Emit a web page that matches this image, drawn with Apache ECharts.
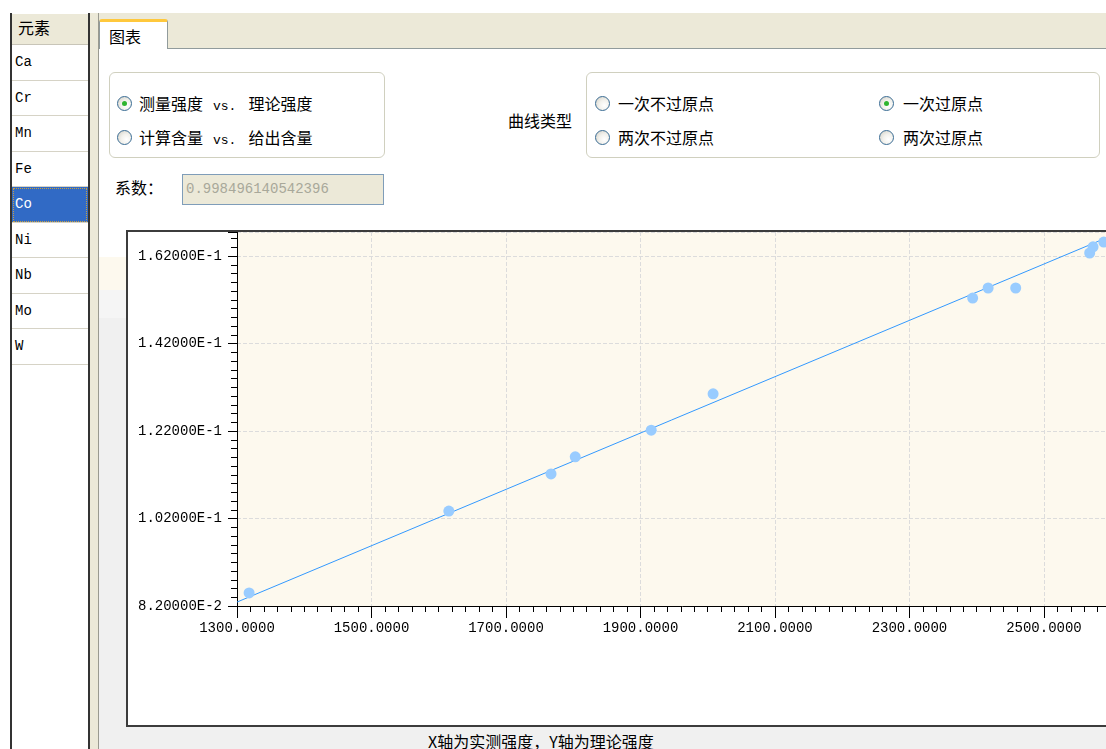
<!DOCTYPE html>
<html>
<head>
<meta charset="utf-8">
<script src="https://cdn.jsdelivr.net/npm/echarts@6/dist/echarts.min.js"></script>
<style>
  html, body { margin: 0; padding: 0; }
  body { width: 1106px; height: 749px; overflow: hidden; position: relative; background: #fff;
         font-family: 'Noto Sans CJK SC', sans-serif; color: #000; }
  .abs { position: absolute; }
  .cjk { font-size: 16px; line-height: 20px; white-space: nowrap; }
  .mono { font-family: 'Liberation Mono', monospace; }
  .radio { position: absolute; width: 13px; height: 13px; border-radius: 50%; border: 1px solid #3a6c94;
           background: radial-gradient(circle at 65% 65%, #fff 0%, #f2f1ec 45%, #cfcdc3 100%); }
  .radio.on::after { content: ''; position: absolute; left: 4px; top: 4px; width: 5px; height: 5px;
           border-radius: 50%; background: #2fb52f; }
  .group { position: absolute; border: 1px solid #d0d0bf; border-radius: 6px; background: #fff; }
  .row { position: absolute; left: 0; width: 76px; border-bottom: 1px solid #d6d3c6;
         font-family: 'Liberation Mono', monospace; font-size: 14px; padding-left: 3px; box-sizing: border-box; }
</style>
</head>
<body>

<!-- left element list -->
<div class="abs" style="left:10px;top:13px;width:76px;height:736px;border-left:2px solid #333;border-right:2px solid #333;background:#fff;">
  <div class="abs cjk" style="left:0;top:1px;width:76px;height:30px;background:#ece9d8;border-bottom:1px solid #c8c5b8;">
    <span class="abs" style="left:6px;top:3px;">元素</span>
  </div>
  <div id="rows"></div>
</div>
<div class="abs" style="left:90px;top:13px;width:8px;height:736px;background:#ece9d8;"></div>
<div class="abs" style="left:98px;top:13px;width:1px;height:736px;background:#9a9a90;"></div>

<!-- tab strip -->
<div class="abs" style="left:99px;top:13px;width:1007px;height:35px;background:#ece9d8;border-bottom:1px solid #919b9c;"></div>
<div class="abs" style="left:99px;top:19px;width:69px;height:30px;background:#fff;border:1px solid #919b9c;border-top:3px solid #ffc83c;border-bottom:none;border-radius:3px 3px 0 0;box-sizing:border-box;">
  <span class="abs cjk" style="left:9px;top:4px;">图表</span>
</div>

<!-- option groups -->
<div class="group" style="left:109px;top:72px;width:274px;height:84px;"></div>
<div class="radio on" style="left:117px;top:96px;"></div>
<div class="abs cjk" style="left:139px;top:93px;">测量强度<span class="mono" style="font-size:13px;margin:0 12px 0 10px;">vs.</span>理论强度</div>
<div class="radio" style="left:117px;top:130px;"></div>
<div class="abs cjk" style="left:139px;top:127px;">计算含量<span class="mono" style="font-size:13px;margin:0 12px 0 10px;">vs.</span>给出含量</div>

<div class="abs cjk" style="left:508px;top:110px;">曲线类型</div>

<div class="group" style="left:586px;top:72px;width:512px;height:84px;"></div>
<div class="radio" style="left:595px;top:96px;"></div>
<div class="abs cjk" style="left:618px;top:93px;">一次不过原点</div>
<div class="radio" style="left:595px;top:130px;"></div>
<div class="abs cjk" style="left:618px;top:127px;">两次不过原点</div>
<div class="radio on" style="left:879px;top:96px;"></div>
<div class="abs cjk" style="left:903px;top:93px;">一次过原点</div>
<div class="radio" style="left:879px;top:130px;"></div>
<div class="abs cjk" style="left:903px;top:127px;">两次过原点</div>

<div class="abs cjk" style="left:115px;top:177px;">系数：</div>
<div class="abs mono" style="left:182px;top:174px;width:202px;height:31px;box-sizing:border-box;background:#ece9d8;border:1px solid #7f9db9;color:#a8a89a;font-size:14px;line-height:29px;padding-left:3px;">0.998496140542396</div>

<!-- background strip left of chart -->
<div class="abs" style="left:99px;top:257px;width:1007px;height:33px;background:#fdf9ee;"></div>
<div class="abs" style="left:99px;top:290px;width:1007px;height:28px;background:#f5f5f5;"></div>
<div class="abs" style="left:99px;top:318px;width:1007px;height:431px;background:#f0f0f0;"></div>

<!-- chart box -->
<div id="chart" class="abs" style="left:126px;top:230px;width:1000px;height:493px;border:2px solid #3c3c3c;background:#fff;"></div>

<div class="abs cjk" style="left:428px;top:731px;">X轴为实测强度，Y轴为理论强度</div>

<script>
const elements = ['Ca', 'Cr', 'Mn', 'Fe', 'Co', 'Ni', 'Nb', 'Mo', 'W'];
const selectedElement = 'Co';

// measured intensity (x) vs theoretical intensity (y)
const measured = [1318, 1615, 1767, 1803, 1916, 2008, 2394, 2417, 2458, 2568, 2573, 2589];
const theory = [0.0850, 0.1037, 0.1122, 0.1161, 0.1222, 0.1305, 0.1524, 0.1547, 0.1547, 0.1627, 0.1641, 0.1652];

// fitted line, read at both ends of the visible plot
const fitX = [1300, 2592];
const fitY = [0.0829, 0.1661];

// element list rows
const rowsEl = document.getElementById('rows');
elements.forEach((el, i) => {
  const d = document.createElement('div');
  d.className = 'row';
  d.style.top = (32 + i * 35.5) + 'px';
  d.style.height = '35.5px';
  d.style.lineHeight = '34px';
  if (el === selectedElement) {
    d.style.background = '#316ac5';
    d.style.color = '#fff';
    d.style.outline = '1px dotted #c8a040';
    d.style.outlineOffset = '-2px';
  }
  d.textContent = el;
  rowsEl.appendChild(d);
});

const chart = echarts.init(document.getElementById('chart'));

const axisCommon = {
  type: 'value',
  axisLine: { show: true, lineStyle: { color: '#000', width: 1 } },
  splitLine: { show: true, lineStyle: { color: '#dcdcdc', type: 'dashed' } },
  minorTick: { show: true, splitNumber: 10, length: 6, lineStyle: { color: '#000' } },
  minorSplitLine: { show: false },
};

chart.setOption({
  animation: false,
  grid: {
    left: 109,
    top: 0,
    width: 891,
    height: 374,
    show: true,
    backgroundColor: '#fdf9ee',
    borderWidth: 0,
    outerBoundsMode: 'none',
  },
  xAxis: {
    ...axisCommon,
    min: 1300,
    max: 2625,
    interval: 200,
    axisTick: { length: 12, lineStyle: { color: '#000' } },
    axisLabel: {
      margin: 15,
      color: '#000',
      fontFamily: 'Liberation Mono',
      fontSize: 14,
      showMaxLabel: false,
      formatter: v => v.toFixed(4),
    },
  },
  yAxis: {
    ...axisCommon,
    min: 0.082,
    max: 0.1675,
    interval: 0.02,
    axisTick: { length: 9, lineStyle: { color: '#000' } },
    axisLabel: {
      margin: 15,
      color: '#000',
      fontFamily: 'Liberation Mono',
      fontSize: 14,
      showMaxLabel: false,
      formatter: v => v.toExponential(5).replace('e', 'E'),
    },
  },
  series: [
    {
      type: 'line',
      data: fitX.map((x, i) => [x, fitY[i]]),
      symbol: 'none',
      clip: true,
      lineStyle: { color: '#3399ff', width: 1 },
      z: 2,
    },
    {
      type: 'scatter',
      data: measured.map((x, i) => [x, theory[i]]),
      symbolSize: 11,
      itemStyle: { color: '#99ccff', opacity: 1 },
      z: 3,
    },
  ],
});
</script>
</body>
</html>
